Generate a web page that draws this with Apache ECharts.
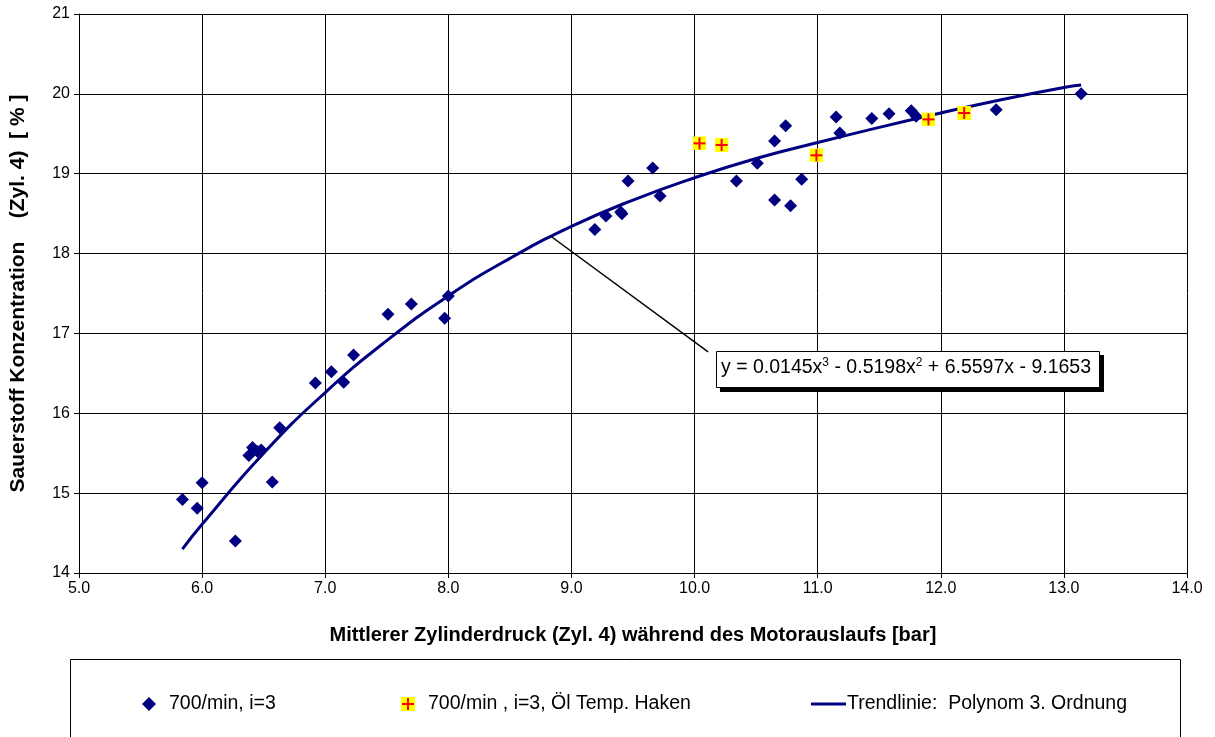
<!DOCTYPE html>
<html>
<head>
<meta charset="utf-8">
<script src="https://cdn.jsdelivr.net/npm/echarts@6/dist/echarts.min.js"></script>
<style>html,body{margin:0;padding:0;background:#fff}#c{width:1215px;height:737px}</style>
</head>
<body>
<div id="c"></div>
<script>
// Series 1: 700/min, i=3  [x (bar), y (%)]
const seriesMain = [
  [5.84,14.92],[5.96,14.81],[6.00,15.13],[6.27,14.40],[6.38,15.47],[6.41,15.57],
  [6.45,15.52],[6.48,15.54],[6.57,15.14],[6.63,15.82],[6.92,16.38],[7.05,16.52],
  [7.15,16.39],[7.23,16.73],[7.51,17.24],[7.70,17.37],[7.97,17.19],[8.00,17.47],
  [9.19,18.30],[9.28,18.47],[9.40,18.52],[9.41,18.50],[9.46,18.91],[9.66,19.07],
  [9.72,18.72],[10.34,18.91],[10.51,19.13],[10.65,19.41],[10.65,18.67],[10.74,19.60],
  [10.78,18.60],[10.87,18.93],[11.15,19.71],[11.18,19.51],[11.44,19.69],[11.58,19.75],
  [11.76,19.79],[11.80,19.72],[12.45,19.80],[13.14,20.00]
];
// Series 2: 700/min , i=3, Öl Temp. Haken
const seriesOil = [
  [10.04,19.38],[10.22,19.36],[10.99,19.23],[11.90,19.68],[12.19,19.76]
];
// Trend line points
const trendPoints = [
  [5.84,14.30],[6.0,14.61],[6.5,15.50],[7.0,16.26],[7.5,16.91],[8.0,17.47],
  [8.5,17.94],[9.0,18.34],[9.5,18.67],[10.0,18.95],[10.5,19.19],[11.0,19.39],
  [11.5,19.58],[12.0,19.76],[12.5,19.93],[13.0,20.08],[13.14,20.11]
];
const leaderLine = [[8.83,18.22],[10.11,16.77]];
const names = ['700/min, i=3','700/min , i=3, Öl Temp. Haken','Trendlinie:  Polynom 3. Ordnung'];
const xTitle = 'Mittlerer Zylinderdruck (Zyl. 4) während des Motorauslaufs [bar]';
const yTitle = 'Sauerstoff Konzentration    (Zyl. 4)  [ % ]';
const equation = 'y = 0.0145x{s|3} - 0.5198x{s|2} + 6.5597x - 9.1653';

const FONT = 'Liberation Sans, Arial, sans-serif';
const crossSvg = 'image://data:image/svg+xml;charset=utf-8,' + encodeURIComponent(
  '<svg xmlns="http://www.w3.org/2000/svg" width="14" height="14" viewBox="0 0 14 14">' +
  '<rect x="0" y="0" width="14" height="14" fill="#FFFF00"/>' +
  '<rect x="6" y="1" width="2" height="12" fill="#FF0000"/>' +
  '<rect x="1" y="6" width="12" height="2" fill="#FF0000"/></svg>');

const chart = echarts.init(document.getElementById('c'));
chart.setOption({
  animation: false,
  textStyle: {fontFamily: FONT},
  grid: {left: 77, right: 28, top: 14, bottom: 164, show: false},
  xAxis: {
    type: 'value', min: 5, max: 14, interval: 1,
    name: xTitle, nameLocation: 'middle', nameGap: 52,
    nameTextStyle: {fontWeight: 'bold', fontSize: 20, color: '#000', fontFamily: FONT},
    axisLine: {show: true, onZero: false, lineStyle: {color: '#000', width: 1}},
    axisTick: {show: true, length: 5, lineStyle: {color: '#000'}},
    axisLabel: {fontSize: 16, color: '#000', margin: 8, formatter: v => v.toFixed(1), fontFamily: FONT},
    splitLine: {show: true, lineStyle: {color: '#000', width: 1}}
  },
  yAxis: {
    type: 'value', min: 14, max: 21, interval: 1,
    name: yTitle, nameLocation: 'middle', nameGap: 50, nameRotate: 90,
    nameTextStyle: {fontWeight: 'bold', fontSize: 21, color: '#000', fontFamily: FONT},
    axisLine: {show: true, onZero: false, lineStyle: {color: '#000', width: 1}},
    axisTick: {show: true, length: 5, lineStyle: {color: '#000'}},
    axisLabel: {fontSize: 16, color: '#000', margin: 9, fontFamily: FONT},
    splitLine: {show: true, lineStyle: {color: '#000', width: 1}}
  },
  legend: [
    {data: [names[0]], left: 137, top: 689, itemWidth: 14, itemHeight: 14,
     textStyle: {fontSize: 19.5, color: '#000', padding: [0,0,0,8], fontFamily: FONT}},
    {data: [names[1]], left: 396, top: 689, itemWidth: 14, itemHeight: 14,
     textStyle: {fontSize: 19.5, color: '#000', padding: [0,0,0,8], fontFamily: FONT}},
    {data: [{name: names[2], icon: 'rect'}], left: 806, top: 689, itemWidth: 35, itemHeight: 3,
     textStyle: {fontSize: 19.5, color: '#000', padding: [0,0,0,-4], fontFamily: FONT}}
  ],
  series: [
    {
      name: names[2], type: 'line', data: trendPoints, smooth: true, showSymbol: false,
      symbol: 'none', z: 2,
      lineStyle: {color: '#000080', width: 3}, itemStyle: {color: '#000080'},
      markLine: {
        silent: true, symbol: 'none', animation: false,
        lineStyle: {color: '#000', width: 1.5, type: 'solid'},
        label: {show: false},
        data: [[{coord: leaderLine[0]}, {coord: leaderLine[1]}]]
      }
    },
    {
      name: names[0], type: 'scatter', data: seriesMain, symbol: 'diamond', symbolSize: 13,
      itemStyle: {color: '#000080', opacity: 1}, z: 3
    },
    {
      name: names[1], type: 'scatter', data: seriesOil, symbol: crossSvg, symbolSize: 14,
      itemStyle: {color: '#FFFF00', opacity: 1}, z: 4
    }
  ],
  graphic: [
    {type: 'rect', left: 720, top: 355, z: 10, silent: true,
     shape: {width: 384, height: 37},
     style: {fill: '#000', stroke: null}},
    {type: 'rect', left: 716, top: 351, z: 11, silent: true,
     shape: {width: 383, height: 36},
     style: {fill: '#fff', stroke: '#000', lineWidth: 1}},
    {type: 'text', left: 721, top: 357, z: 12, silent: true,
     style: {
       text: equation,
       fontSize: 19.5, fontFamily: FONT, fill: '#000',
       rich: {s: {fontSize: 12, verticalAlign: 'top', padding: [0,0,10,0], fontFamily: FONT}}
     }},
    {type: 'rect', left: 68, top: 657, z: 0, silent: true,
     shape: {width: 1110, height: 100},
     style: {fill: 'none', stroke: '#000', lineWidth: 1}}
  ]
});
</script>
</body>
</html>
